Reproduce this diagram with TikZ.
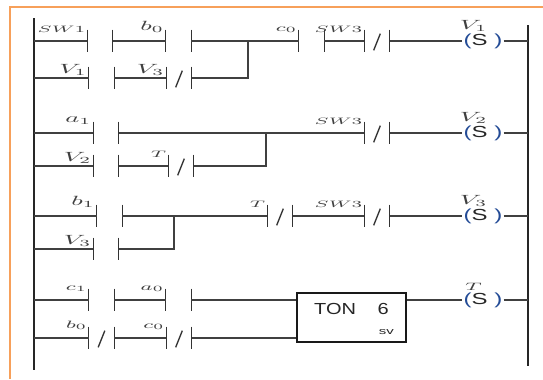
\documentclass[tikz,border=0pt]{standalone}
\usepackage{amsmath}
\usepackage{fontspec}
\usepackage{tikz}
\newfontfamily\arialfont{Liberation Sans}
\definecolor{coilblue}{RGB}{35,75,150}
\definecolor{frameorange}{RGB}{247,160,90}
\tikzstyle{wire}=[draw=black!75,line width=0.9pt]
\tikzstyle{rail}=[draw=black!85,line width=1.5pt]
\tikzstyle{plate}=[draw=black!80,line width=1pt]
\tikzstyle{contact}=[minimum width=18.75pt,minimum height=16.5pt,inner sep=0pt,
  append after command={(\tikzlastnode.north west) edge[plate] (\tikzlastnode.south west)
    (\tikzlastnode.north east) edge[plate] (\tikzlastnode.south east)}]
\tikzstyle{ncontact}=[contact,
  append after command={([shift={(-2.5pt,-7pt)}]\tikzlastnode.center) edge[plate] ([shift={(2.5pt,5.5pt)}]\tikzlastnode.center)}]
\tikzstyle{lbl}=[text=black!75,inner sep=0.5pt,yshift=-3pt,xscale=2]
\tikzstyle{blbl}=[lbl,yshift=-4pt]
\tikzstyle{slbl}=[lbl,font=\scriptsize]
\tikzstyle{mlbl}=[lbl,font=\footnotesize]
\tikzstyle{coil}=[font=\arialfont\large,text=black!85,inner sep=0.5pt,xscale=1.5]
\tikzstyle{clbl}=[text=black!75,inner sep=0pt,xshift=-7pt,yshift=1pt,xscale=2]
\tikzstyle{tonbox}=[draw=black!90,line width=1.5pt,minimum width=81.75pt,minimum height=36.75pt]
\tikzstyle{tontext}=[font=\arialfont\large,text=black!85,inner sep=0pt,xscale=1.25]
\tikzstyle{svtext}=[font=\arialfont\scriptsize,text=black!85,inner sep=0pt,xscale=1.6]
\newcommand{\setcoil}{\textcolor{coilblue}{(}S\ \textcolor{coilblue}{)}}

\begin{document}
\begin{tikzpicture}[x=0.75pt,y=-0.75pt]
    \useasboundingbox (0,0) rectangle (543,379);
    \draw[frameorange,line width=1.5pt] (543,7) -- (10,7) -- (10,379);
    % rails
    \coordinate (lrt) at (34,18);
    \coordinate (lrb) at (34,370);
    \coordinate (rrt) at (528,25);
    \coordinate (rrb) at (528,366);
    \draw[rail] (lrt) -- (lrb);
    \draw[rail] (rrt) -- (rrb);
    % rung 1
    \node[contact,label={[slbl]north west:$SW1$}] (sw1) at (100,41) {};
    \node[contact,label={[lbl]north west:$b_0$}] (b0a) at (178.5,41) {};
    \node[contact,label={[mlbl]north west:$c_0$}] (c0a) at (311.5,41) {};
    \node[ncontact,label={[slbl]north west:$SW3$}] (sw3a) at (377,41) {};
    \node[coil,label={[clbl]above:$V_1$}] (s1) at (483,41) {\setcoil};
    \node[contact,label={[blbl]north west:$V_1$}] (v1a) at (101.5,78) {};
    \node[ncontact,label={[blbl]north west:$V_3$}] (v3a) at (179,78) {};
    \coordinate (j1) at (248,41);
    \draw[wire] (sw1.west -| lrt) -- (sw1.west) (sw1.east) -- (b0a.west)
        (b0a.east) -- (c0a.west) (c0a.east) -- (sw3a.west) (sw3a.east) -- (s1.west)
        (s1.east) -- (s1.east -| rrt);
    \draw[wire] (v1a.west -| lrt) -- (v1a.west) (v1a.east) -- (v3a.west) (v3a.east) -| (j1);
    % rung 2
    \node[contact,label={[lbl]north west:$a_1$}] (a1) at (106,133) {};
    \node[ncontact,label={[slbl]north west:$SW3$}] (sw3b) at (377,133) {};
    \node[coil,label={[clbl]above:$V_2$}] (s2) at (483,133) {\setcoil};
    \node[contact,label={[blbl]north west:$V_2$}] (v2) at (106,166) {};
    \node[ncontact,label={[slbl]north west:$T$}] (ta) at (181,166) {};
    \coordinate (j2) at (266,133);
    \draw[wire] (a1.west -| lrt) -- (a1.west) (a1.east) -- (sw3b.west)
        (sw3b.east) -- (s2.west) (s2.east) -- (s2.east -| rrt);
    \draw[wire] (v2.west -| lrt) -- (v2.west) (v2.east) -- (ta.west) (ta.east) -| (j2);
    % rung 3
    \node[contact,label={[lbl]north west:$b_1$}] (b1) at (109.5,216) {};
    \node[ncontact,label={[slbl]north west:$T$}] (tb) at (280,216) {};
    \node[ncontact,label={[slbl]north west:$SW3$}] (sw3c) at (377,216) {};
    \node[coil,label={[clbl]above:$V_3$}] (s3) at (483,216) {\setcoil};
    \node[contact,label={[blbl]north west:$V_3$}] (v3b) at (106,249) {};
    \coordinate (j3) at (174,216);
    \draw[wire] (b1.west -| lrt) -- (b1.west) (b1.east) -- (tb.west)
        (tb.east) -- (sw3c.west) (sw3c.east) -- (s3.west) (s3.east) -- (s3.east -| rrt);
    \draw[wire] (v3b.west -| lrt) -- (v3b.west) (v3b.east) -| (j3);
    % rung 4
    \node[contact,label={[mlbl]north west:$c_1$}] (c1) at (101.5,300) {};
    \node[contact,label={[mlbl]north west:$a_0$}] (a0) at (178.5,300) {};
    \node[ncontact,label={[mlbl]north west:$b_0$}] (b0b) at (101.5,338) {};
    \node[ncontact,label={[mlbl]north west:$c_0$}] (c0b) at (179,338) {};
    \node[tonbox] (ton) at (351.5,317.5) {};
    \node[tontext] (tonname) at ([yshift=6.4pt]ton.center) {TON\hspace{13pt}6};
    \node[svtext] (tonsv) at ([xshift=-15.5pt,yshift=8pt]ton.south east) {sv};
    \node[coil,label={[clbl,font=\footnotesize]above:$T$}] (s4) at (483,300) {\setcoil};
    \draw[wire] (c1.west -| lrt) -- (c1.west) (c1.east) -- (a0.west)
        (a0.east) -- (a0.east -| ton.west);
    \draw[wire] (b0b.west -| lrt) -- (b0b.west) (b0b.east) -- (c0b.west)
        (c0b.east) -- (c0b.east -| ton.west);
    \draw[wire] (s4.west -| ton.east) -- (s4.west) (s4.east) -- (s4.east -| rrt);
\end{tikzpicture}
\end{document}
